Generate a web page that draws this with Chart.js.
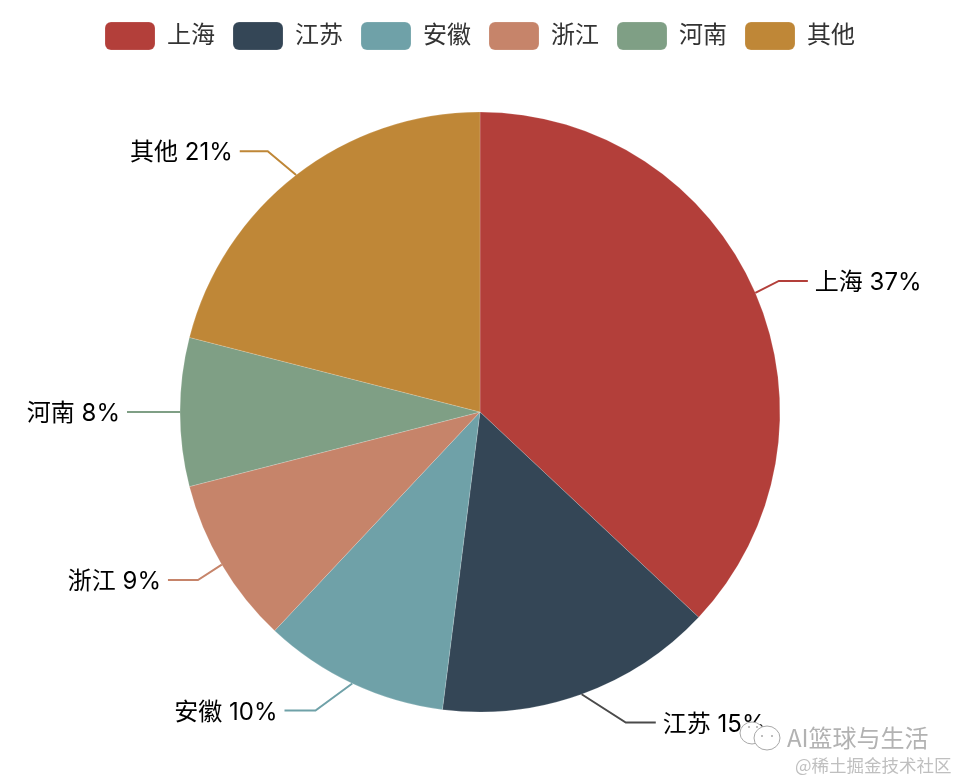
<!DOCTYPE html>
<html>
<head>
<meta charset="utf-8">
<script src="https://cdn.jsdelivr.net/npm/chart.js@4"></script>
<style>
  html, body { margin: 0; padding: 0; background: #fff; }
  #wrap { width: 960px; height: 780px; }
</style>
</head>
<body>
<div id="wrap"><canvas id="pie" width="960" height="780"></canvas></div>
<script>
const categories = ["上海", "江苏", "安徽", "浙江", "河南", "其他"];
const shares = [37, 15, 10, 9, 8, 21];
const colors = ["#b33f3a", "#344656", "#6fa1a8", "#c6846a", "#7f9f85", "#bf8737"];

// how far each leader elbow is pushed sideways, and the length of its flat part
const elbowShift = [-4, 34, -24, 2, 0, -10];
const flatLength = [29, 30, 31, 30, 23, 28];

const FONT = 'Inter, "Noto Sans CJK SC", sans-serif';

const leaderLabels = {
  id: "leaderLabels",
  afterDatasetsDraw(chart) {
    const ctx = chart.ctx;
    chart.getDatasetMeta(0).data.forEach((arc, i) => {
      const { x, y, outerRadius, startAngle, endAngle } = arc;
      const mid = (startAngle + endAngle) / 2;
      const cos = Math.cos(mid), sin = Math.sin(mid);
      const side = cos >= 0 ? 1 : -1;
      const x1 = x + outerRadius * cos, y1 = y + outerRadius * sin;
      const x2 = x + (outerRadius + 30) * cos + elbowShift[i], y2 = y + (outerRadius + 30) * sin;
      const x3 = x2 + side * flatLength[i];
      ctx.save();
      ctx.strokeStyle = i === 1 ? "#4a4a4a" : colors[i];
      ctx.lineWidth = 2;
      ctx.beginPath();
      ctx.moveTo(x1, y1);
      ctx.lineTo(x2, y2);
      ctx.lineTo(x3, y2);
      ctx.stroke();
      ctx.fillStyle = "#000";
      ctx.font = "24px " + FONT;
      ctx.textBaseline = "middle";
      ctx.textAlign = side > 0 ? "left" : "right";
      ctx.fillText(categories[i] + " " + shares[i] + "%", x3 + side * 7, y2 + 2);
      ctx.restore();
    });
  },
};

const watermark = {
  id: "watermark",
  afterDraw(chart) {
    const ctx = chart.ctx;
    ctx.save();
    ctx.lineWidth = 1;
    ctx.strokeStyle = "#a8a8a8";
    ctx.fillStyle = "#fff";
    ctx.beginPath();
    ctx.ellipse(752, 733, 12, 11, 0, 0, Math.PI * 2);
    ctx.fill();
    ctx.stroke();
    ctx.beginPath();
    ctx.ellipse(767, 738, 13, 12, 0, 0, Math.PI * 2);
    ctx.fill();
    ctx.stroke();
    ctx.fillStyle = "#a8a8a8";
    [[762, 736], [772, 736], [749, 727], [757, 727]].forEach(([px, py]) => {
      ctx.beginPath();
      ctx.arc(px, py, 1, 0, Math.PI * 2);
      ctx.fill();
    });
    ctx.textBaseline = "middle";
    ctx.font = '24px "Noto Sans CJK SC", sans-serif';
    ctx.fillStyle = "rgba(165,165,165,0.85)";
    ctx.fillText("AI篮球与生活", 787, 738);
    ctx.font = '17.5px "Noto Sans CJK SC", sans-serif';
    ctx.fillStyle = "rgba(180,180,180,0.85)";
    ctx.fillText("@稀土掘金技术社区", 795, 765);
    ctx.restore();
  },
};

new Chart(document.getElementById("pie"), {
  type: "pie",
  data: {
    labels: categories,
    datasets: [{
      data: shares,
      backgroundColor: colors,
      borderColor: "rgba(255,255,255,0.35)",
      borderWidth: 0.5,
      radius: 300,
    }],
  },
  plugins: [leaderLabels, watermark],
  options: {
    responsive: false,
    animation: false,
    layout: { padding: { top: 4, bottom: 16 } },
    plugins: {
      tooltip: { enabled: false },
      legend: {
        position: "top",
        labels: {
          boxWidth: 50,
          boxHeight: 28,
          padding: 18,
          useBorderRadius: true,
          borderRadius: 6,
          color: "#333",
          font: { family: FONT, size: 24 },
        },
      },
    },
  },
});
</script>
</body>
</html>
